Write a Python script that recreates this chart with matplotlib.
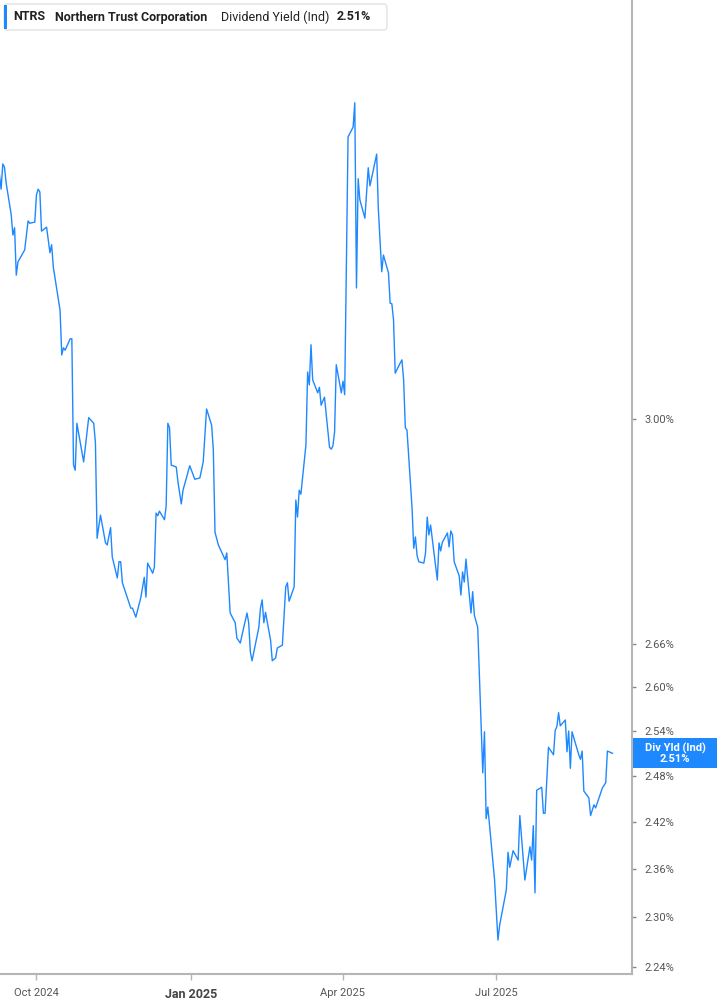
import datetime as dt
import matplotlib
matplotlib.use('Agg')
import matplotlib.pyplot as plt
import matplotlib.dates as mdates
from matplotlib.patches import Rectangle, FancyBboxPatch
from matplotlib.ticker import NullLocator
plt.rcParams['font.family'] = ['Roboto', 'DejaVu Sans']

# NTRS indicated dividend yield, %
dates = [
    "2024-09-09", "2024-09-10", "2024-09-11", "2024-09-12", "2024-09-13", "2024-09-16", "2024-09-17",
    "2024-09-18", "2024-09-19", "2024-09-20", "2024-09-24", "2024-09-26", "2024-09-27", "2024-09-30",
    "2024-10-01", "2024-10-02", "2024-10-03", "2024-10-04", "2024-10-07", "2024-10-09", "2024-10-10",
    "2024-10-11", "2024-10-15", "2024-10-16", "2024-10-17", "2024-10-18", "2024-10-21", "2024-10-22",
    "2024-10-23", "2024-10-24", "2024-10-25", "2024-10-29", "2024-11-01", "2024-11-04", "2024-11-05",
    "2024-11-06", "2024-11-08", "2024-11-11", "2024-11-12", "2024-11-14", "2024-11-15", "2024-11-18",
    "2024-11-19", "2024-11-20", "2024-11-21", "2024-11-26", "2024-11-27", "2024-11-29", "2024-12-02",
    "2024-12-04", "2024-12-05", "2024-12-06", "2024-12-09", "2024-12-10", "2024-12-11", "2024-12-12",
    "2024-12-13", "2024-12-16", "2024-12-17", "2024-12-18", "2024-12-19", "2024-12-20", "2024-12-23",
    "2024-12-24", "2024-12-26", "2024-12-27", "2024-12-31", "2025-01-03", "2025-01-06", "2025-01-08",
    "2025-01-10", "2025-01-13", "2025-01-14", "2025-01-15", "2025-01-17", "2025-01-21", "2025-01-22",
    "2025-01-24", "2025-01-27", "2025-01-28", "2025-01-30", "2025-02-03", "2025-02-04", "2025-02-05",
    "2025-02-06", "2025-02-10", "2025-02-11", "2025-02-12", "2025-02-13", "2025-02-14", "2025-02-17",
    "2025-02-18", "2025-02-20", "2025-02-21", "2025-02-24", "2025-02-26", "2025-02-27", "2025-02-28",
    "2025-03-03", "2025-03-04", "2025-03-05", "2025-03-06", "2025-03-07", "2025-03-10", "2025-03-11",
    "2025-03-12", "2025-03-13", "2025-03-14", "2025-03-17", "2025-03-18", "2025-03-19", "2025-03-21",
    "2025-03-24", "2025-03-25", "2025-03-26", "2025-03-27", "2025-03-28", "2025-03-31", "2025-04-01",
    "2025-04-02", "2025-04-04", "2025-04-07", "2025-04-08", "2025-04-09", "2025-04-10", "2025-04-11",
    "2025-04-14", "2025-04-16", "2025-04-17", "2025-04-21", "2025-04-22", "2025-04-24", "2025-04-25",
    "2025-04-28", "2025-04-29", "2025-04-30", "2025-05-01", "2025-05-02", "2025-05-05", "2025-05-06",
    "2025-05-07", "2025-05-08", "2025-05-09", "2025-05-12", "2025-05-13", "2025-05-14", "2025-05-15",
    "2025-05-16", "2025-05-19", "2025-05-20", "2025-05-21", "2025-05-22", "2025-05-23", "2025-05-27",
    "2025-05-28", "2025-05-29", "2025-05-30", "2025-06-02", "2025-06-03", "2025-06-04", "2025-06-05",
    "2025-06-06", "2025-06-09", "2025-06-10", "2025-06-11", "2025-06-12", "2025-06-13", "2025-06-16",
    "2025-06-17", "2025-06-18", "2025-06-20", "2025-06-23", "2025-06-24", "2025-06-25", "2025-06-26",
    "2025-06-27", "2025-06-30", "2025-07-02", "2025-07-03", "2025-07-07", "2025-07-08", "2025-07-09",
    "2025-07-11", "2025-07-14", "2025-07-15", "2025-07-18", "2025-07-21", "2025-07-22", "2025-07-23",
    "2025-07-24", "2025-07-25", "2025-07-28", "2025-07-29", "2025-07-30", "2025-08-01", "2025-08-04",
    "2025-08-05", "2025-08-06", "2025-08-07", "2025-08-08", "2025-08-11", "2025-08-12", "2025-08-13",
    "2025-08-14", "2025-08-15", "2025-08-19", "2025-08-20", "2025-08-21", "2025-08-22", "2025-08-25",
    "2025-08-26", "2025-08-28", "2025-08-29", "2025-09-02", "2025-09-04", "2025-09-05", "2025-09-08",
]
yields = [
    3.417, 3.391, 3.437, 3.431, 3.402, 3.345, 3.309,
    3.322, 3.239, 3.262, 3.283, 3.334, 3.330, 3.332,
    3.381, 3.391, 3.386, 3.316, 3.323, 3.278, 3.292,
    3.253, 3.179, 3.104, 3.116, 3.112, 3.131, 3.131,
    2.927, 2.919, 2.993, 2.932, 3.002, 2.993, 2.962,
    2.815, 2.850, 2.808, 2.805, 2.831, 2.787, 2.756,
    2.780, 2.780, 2.749, 2.712, 2.712, 2.699, 2.728,
    2.757, 2.728, 2.778, 2.763, 2.772, 2.853, 2.849,
    2.856, 2.843, 2.864, 2.993, 2.986, 2.927, 2.924,
    2.901, 2.867, 2.888, 2.926, 2.905, 2.907, 2.932,
    3.016, 2.990, 2.951, 2.824, 2.805, 2.783, 2.793,
    2.705, 2.691, 2.669, 2.662, 2.705, 2.691, 2.649,
    2.637, 2.684, 2.712, 2.724, 2.691, 2.706, 2.666,
    2.637, 2.641, 2.655, 2.659, 2.743, 2.749, 2.722,
    2.743, 2.873, 2.847, 2.888, 2.882, 2.959, 3.076,
    3.055, 3.121, 3.063, 3.042, 3.051, 3.022, 3.035,
    2.955, 2.952, 2.957, 2.979, 3.088, 3.042, 3.061,
    3.039, 3.487, 3.505, 3.551, 3.217, 3.410, 3.372,
    3.339, 3.430, 3.397, 3.455, 3.354, 3.245, 3.274,
    3.243, 3.191, 3.190, 3.163, 3.074, 3.091, 3.096,
    3.063, 2.986, 2.982, 2.861, 2.800, 2.817, 2.789,
    2.780, 2.778, 2.793, 2.847, 2.820, 2.835, 2.753,
    2.808, 2.796, 2.809, 2.823, 2.802, 2.826, 2.820,
    2.780, 2.759, 2.731, 2.765, 2.750, 2.784, 2.705,
    2.736, 2.702, 2.684, 2.484, 2.539, 2.424, 2.439,
    2.416, 2.346, 2.272, 2.290, 2.334, 2.381, 2.362,
    2.383, 2.371, 2.428, 2.346, 2.388, 2.371, 2.415,
    2.330, 2.461, 2.465, 2.431, 2.431, 2.518, 2.508,
    2.541, 2.546, 2.565, 2.547, 2.555, 2.512, 2.540,
    2.490, 2.539, 2.508, 2.502, 2.513, 2.460, 2.451,
    2.428, 2.442, 2.438, 2.464, 2.471, 2.513, 2.510,
]
ytick_vals = [2.24, 2.30, 2.36, 2.42, 2.48, 2.54, 2.60, 2.66, 3.00]
xtick_dates = ["2024-10-01", "2025-01-01", "2025-04-01", "2025-07-01"]
xtick_labels = ["Oct 2024", "Jan 2025", "Apr 2025", "Jul 2025"]
last_val = 2.51

W, H = 717, 1005
fig = plt.figure(figsize=(W / 100, H / 100), dpi=100)
ax = fig.add_axes([0, (H - 974) / H, 632 / W, 974 / H])

x = [dt.datetime.strptime(d, "%Y-%m-%d") for d in dates]
ax.plot(x, yields, color='#1e88ff', lw=1.0)

ax.set_yscale('log')
ax.set_ylim(2.2313, 3.751)
ax.yaxis.set_minor_locator(NullLocator())
ax.yaxis.tick_right()
ax.set_yticks(ytick_vals)
ax.set_yticklabels([f"{v:.2f}%" for v in ytick_vals])
ax.yaxis.set_minor_locator(NullLocator())

oct1 = mdates.date2num(dt.datetime(2024, 10, 1))
ax.set_xlim(oct1 - 21.66, oct1 + 353.6)
ax.set_xticks([mdates.date2num(dt.datetime.strptime(d, "%Y-%m-%d")) for d in xtick_dates])
ax.set_xticklabels(xtick_labels)

for s in ['left', 'top']:
    ax.spines[s].set_visible(False)
for s in ['right', 'bottom']:
    ax.spines[s].set_color('#b5b5b5')
    ax.spines[s].set_linewidth(1.5)

ax.tick_params(axis='y', which='both', right=True, left=False, length=3, width=1,
               color='#888888', labelcolor='#555555', labelsize=8, pad=6)
ax.tick_params(axis='x', length=4, width=1, color='#b5b5b5', labelcolor='#555555',
               labelsize=8, pad=6)
for lab in ax.get_xticklabels():
    if lab.get_text().startswith('Jan'):
        lab.set_fontweight('bold')
        lab.set_fontsize(9)
        lab.set_color('#444444')

# header box
fig.patches.append(FancyBboxPatch((4 / W, 1 - 30 / H), 383 / W, 26 / H,
                                  boxstyle="round,pad=0,rounding_size=0.004",
                                  transform=fig.transFigure, facecolor='white',
                                  edgecolor='#e3e3e3', lw=1))
fig.patches.append(Rectangle((4 / W, 1 - 29 / H), 3 / W, 24 / H, transform=fig.transFigure,
                             facecolor='#1e88ff', edgecolor='none'))
ty = 1 - 17 / H
fig.text(13 / W, ty, "NTRS", fontsize=9, fontweight='bold', color='#222222', va='center')
fig.text(55 / W, ty, "Northern Trust Corporation", fontsize=9, fontweight='bold',
         color='#222222', va='center')
fig.text(221 / W, ty, "Dividend Yield (Ind)", fontsize=9, color='#222222', va='center')
fig.text(337 / W, ty, f"{last_val:.2f}%", fontsize=9, fontweight='bold', color='#222222',
         va='center')

# last value tag on the right axis
yd = ax.transData.transform((oct1, last_val))[1] / H
fig.patches.append(Rectangle((633 / W, yd - 15 / H), 84 / W, 30 / H, transform=fig.transFigure,
                             facecolor='#1e88ff', edgecolor='none'))
fig.text(675 / W, yd + 5 / H, "Div Yld (Ind)", fontsize=8, fontweight='bold', color='white',
         ha='center', va='center')
fig.text(675 / W, yd - 5.5 / H, f"{last_val:.2f}%", fontsize=8, fontweight='bold', color='white',
         ha='center', va='center')

fig.savefig('out.png', dpi=100)
